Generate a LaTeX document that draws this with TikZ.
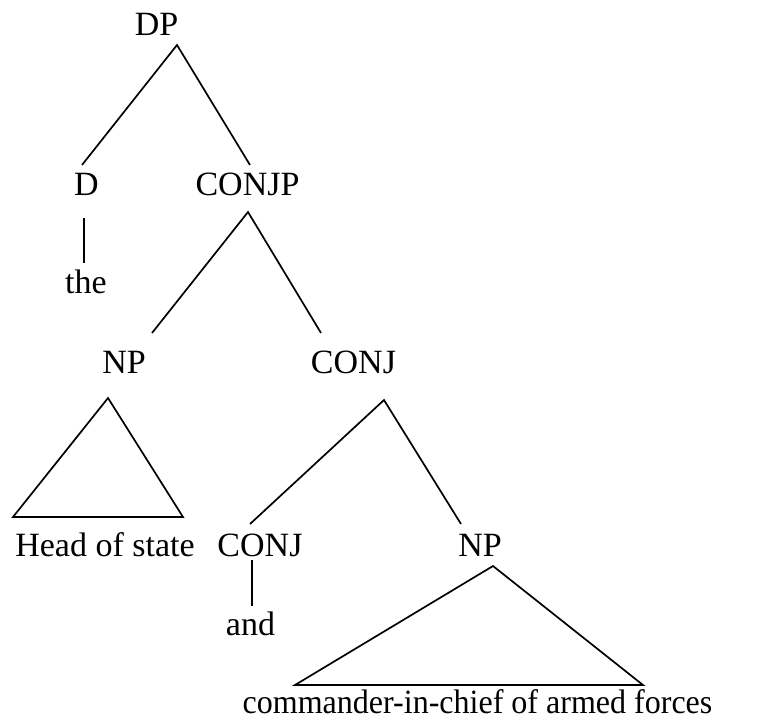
\documentclass[tikz,border=0pt]{standalone}
\usepackage{fontspec}
\setmainfont{Liberation Serif}
\begin{document}
\begin{tikzpicture}[x=1pt,y=-1pt,
  lbl/.style={anchor=base,inner sep=0pt,font=\fontsize{34}{40}\selectfont},
  branch/.style={line width=1.7pt,line join=miter}]
\useasboundingbox (0,0) rectangle (767,723);
% category labels and words
\node[lbl] (DP)    at (156.5,35)  {DP};
\node[lbl] (D)     at (86.5,195)  {D};
\node[lbl] (CONJP) at (247.5,195) {CONJP};
\node[lbl] (the)   at (86,293)    {the};
\node[lbl] (NPa)   at (124,373)   {NP};
\node[lbl] (CONJa) at (353.5,373) {CONJ};
\node[lbl] (head)  at (105,556)   {Head of state};
\node[lbl] (CONJb) at (260,556)   {CONJ};
\node[lbl] (NPb)   at (480,556)   {NP};
\node[lbl] (and)   at (250.5,635) {and};
\node[lbl] (cic)   at (477.5,713) {\scalebox{0.942}[1]{commander-in-chief of armed forces}};
% branch end points
\coordinate (DP-b)    at (177,45);
\coordinate (D-t)     at (82,165);
\coordinate (CONJP-t) at (250,165);
\coordinate (D-b)     at (84,218);
\coordinate (the-t)   at (84,263);
\coordinate (CONJP-b) at (248,212);
\coordinate (NPa-t)   at (152,333);
\coordinate (CONJa-t) at (321,333);
\coordinate (NPa-b)   at (108,398);
\coordinate (tri1-l)  at (13,517);
\coordinate (tri1-r)  at (183,517);
\coordinate (CONJa-b) at (384,400);
\coordinate (CONJb-t) at (250,524);
\coordinate (NPb-t)   at (461,524);
\coordinate (CONJb-b) at (252,560);
\coordinate (and-t)   at (252,606);
\coordinate (NPb-b)   at (493,566);
\coordinate (tri2-l)  at (295,685);
\coordinate (tri2-r)  at (643,685);
% branches
\draw[branch] (D-t) -- (DP-b) -- (CONJP-t);
\draw[branch] (D-b) -- (the-t);
\draw[branch] (NPa-t) -- (CONJP-b) -- (CONJa-t);
\draw[branch] (NPa-b) -- (tri1-l) -- (tri1-r) -- cycle;
\draw[branch] (CONJb-t) -- (CONJa-b) -- (NPb-t);
\draw[branch] (CONJb-b) -- (and-t);
\draw[branch] (NPb-b) -- (tri2-l) -- (tri2-r) -- cycle;
\end{tikzpicture}
\end{document}
